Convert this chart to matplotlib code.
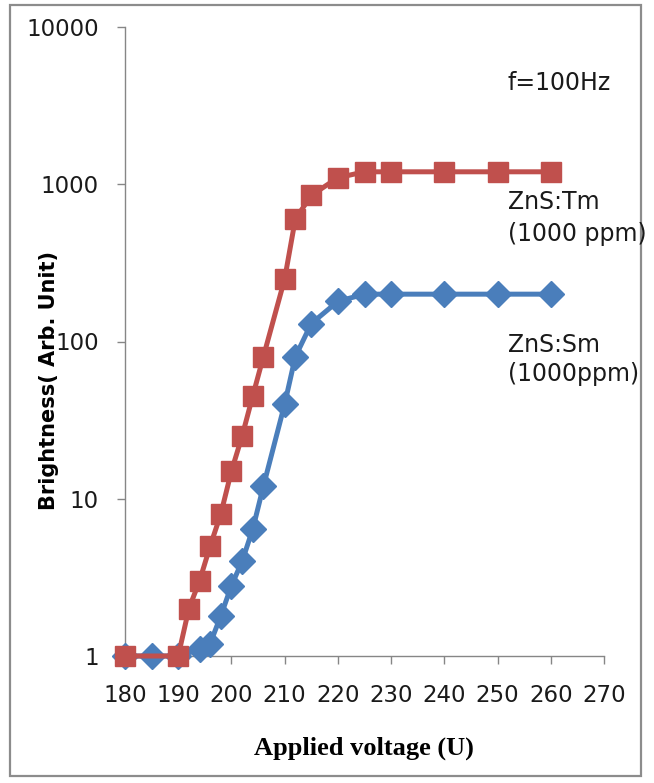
import numpy as np
import matplotlib
matplotlib.use('Agg')
import matplotlib.pyplot as plt
from matplotlib.patches import Rectangle

# data
v_tm = [180, 190, 192, 194, 196, 198, 200, 202, 204, 206, 210, 212, 215, 220, 225, 230, 240, 250, 260]
b_tm = [1, 1, 2, 3, 5, 8, 15, 25, 45, 80, 250, 600, 850, 1100, 1200, 1200, 1200, 1200, 1200]

v_sm = [180, 185, 190, 194, 196, 198, 200, 202, 204, 206, 210, 212, 215, 220, 225, 230, 240, 250, 260]
b_sm = [1, 1, 1, 1.1, 1.2, 1.8, 2.8, 4, 6.4, 12, 40, 80, 130, 180, 200, 200, 200, 200, 200]

x_ticks = [180, 190, 200, 210, 220, 230, 240, 250, 260, 270]
y_ticks = [1, 10, 100, 1000, 10000]
y_labels = ['1', '10', '100', '1000', '10000']

W, H = 654, 783
def px(x, y):
    return x / W, 1 - y / H

red = '#C0504D'
blue = '#4A7EBB'
grey = '#868686'

fig = plt.figure(figsize=(W / 100, H / 100), dpi=100)
fig.patches.append(Rectangle(px(10, 776), 631 / W, 771 / H, transform=fig.transFigure,
                             fill=False, edgecolor='#8c8c8c', linewidth=1.6))

l, b = px(125, 656)
r, t = px(604, 27)
ax = fig.add_axes([l, b, r - l, t - b])

ax.plot(v_sm, b_sm, color=blue, lw=3.6, marker='D', ms=13, clip_on=False, zorder=3)
ax.plot(v_tm, b_tm, color=red, lw=3.6, marker='s', ms=14.5, clip_on=False, zorder=4)

ax.set_yscale('log')
ax.set_xlim(180, 270)
ax.set_ylim(1, 10000)
ax.set_xticks(x_ticks)
ax.set_xticklabels([str(x) for x in x_ticks])
ax.set_yticks(y_ticks)
ax.set_yticklabels(y_labels)
ax.yaxis.set_minor_locator(matplotlib.ticker.NullLocator())

for s in ['top', 'right']:
    ax.spines[s].set_visible(False)
for s in ['left', 'bottom']:
    ax.spines[s].set_color(grey)
    ax.spines[s].set_linewidth(1.0)
ax.tick_params(axis='both', direction='out', length=6, width=1.0, colors=grey,
               labelcolor='#1a1a1a', labelsize=16.5)
ax.tick_params(axis='y', pad=13)
ax.tick_params(axis='x', pad=14)

fig.text(*px(364, 748), 'Applied voltage (U)', ha='center', va='center',
         family='Liberation Serif', fontweight='bold', fontsize=19)
fig.text(*px(49, 381), 'Brightness( Arb. Unit)', ha='center', va='center', rotation=90,
         fontweight='bold', fontsize=15)

fig.text(*px(508, 83), 'f=100Hz', ha='left', va='center', fontsize=17, color='#1a1a1a')
fig.text(*px(508, 202), 'ZnS:Tm', ha='left', va='center', fontsize=17, color='#1a1a1a')
fig.text(*px(508, 234), '(1000 ppm)', ha='left', va='center', fontsize=17, color='#1a1a1a')
fig.text(*px(508, 345), 'ZnS:Sm', ha='left', va='center', fontsize=17, color='#1a1a1a')
fig.text(*px(508, 374), '(1000ppm)', ha='left', va='center', fontsize=17, color='#1a1a1a')

fig.savefig('out.png', dpi=100)
